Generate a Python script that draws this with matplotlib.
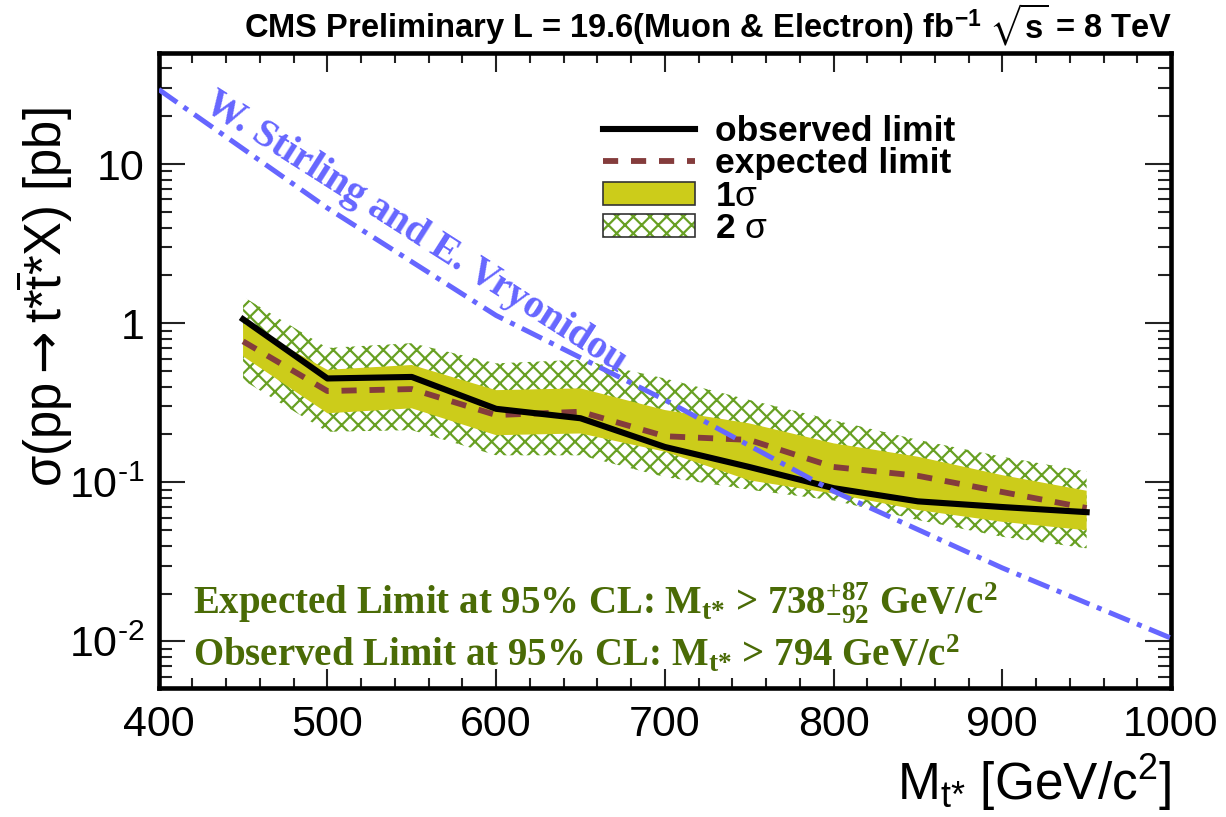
import matplotlib
matplotlib.use("Agg")
import matplotlib.pyplot as plt
from matplotlib.lines import Line2D
from matplotlib.patches import Patch
from matplotlib.legend_handler import HandlerTuple
from matplotlib.ticker import FixedLocator, FixedFormatter, LogLocator, MultipleLocator, NullFormatter

# ---------------- data ----------------
mass = [450, 500, 550, 600, 650, 700, 750, 800, 850, 900, 950]
observed = [1.06, 0.45, 0.46, 0.29, 0.253, 0.167, 0.125, 0.092, 0.076, 0.070, 0.065]
expected = [0.77, 0.375, 0.386, 0.265, 0.278, 0.195, 0.185, 0.125, 0.110, 0.087, 0.069]
one_sigma_lo = [0.62, 0.272, 0.292, 0.198, 0.203, 0.156, 0.103, 0.085, 0.067, 0.0565, 0.050]
one_sigma_hi = [1.00, 0.51, 0.547, 0.38, 0.39, 0.285, 0.235, 0.176, 0.145, 0.111, 0.0886]
two_sigma_lo = [0.44, 0.208, 0.213, 0.148, 0.148, 0.108, 0.090, 0.077, 0.058, 0.0455, 0.0385]
two_sigma_hi = [1.47, 0.70, 0.75, 0.56, 0.59, 0.45, 0.33, 0.246, 0.185, 0.145, 0.117]

theory_mass = [400, 500, 600, 700, 800, 900, 1000]
theory_xsec = [29.5, 5.3, 1.12, 0.33, 0.088, 0.029, 0.0105]

xticks = [400, 500, 600, 700, 800, 900, 1000]
xtick_labels = ["400", "500", "600", "700", "800", "900", "1000"]
yticks = [0.01, 0.1, 1, 10]
HY = "\u2010"
ytick_labels = ["$\\mathsf{10^{" + HY + "2}}$", "$\\mathsf{10^{" + HY + "1}}$", "1", "10"]

legend_labels = ["observed limit", "expected limit", r"1$\mathsf{\sigma}$", r"2 $\mathsf{\sigma}$"]
title_text = r"CMS Preliminary L = 19.6(Muon & Electron) fb$^{\mathbf{-1}}$ $\mathbf{\sqrt{s}}$ = 8 TeV"
theory_label = "W. Stirling and E. Vryonidou"
exp_text = r"Expected Limit at 95% CL: M$_{t{*}}$ > 738$^{+87}_{-92}$ GeV/c$^{2}$"
obs_text = r"Observed Limit at 95% CL: M$_{t{*}}$ > 794 GeV/c$^{2}$"
xlabel = r"$\mathsf{M_{t{*}}\ [GeV/c^{2}]}$"
ylabel = r"$\mathsf{\sigma(pp}\mathtt{\rightarrow}\mathsf{t{*}\overline{t}{*}X)\ [pb]}$"

# ---------------- style ----------------
plt.rcParams["font.family"] = ["Liberation Sans", "DejaVu Sans"]
plt.rcParams["mathtext.fontset"] = "custom"
plt.rcParams["mathtext.rm"] = "Liberation Serif:bold"
plt.rcParams["mathtext.it"] = "Liberation Serif:bold"
plt.rcParams["mathtext.bf"] = "Liberation Sans:bold"
plt.rcParams["mathtext.sf"] = "Liberation Sans"
plt.rcParams["mathtext.tt"] = "DejaVu Sans"
plt.rcParams["mathtext.default"] = "rm"
plt.rcParams["mathtext.fallback"] = "stixsans"
plt.rcParams["hatch.linewidth"] = 1.6

GREEN_HATCH = "#68a023"
YELLOW = "#cccc1a"
BROWN = "#843c3c"
BLUE = "#6666ff"
TEXT_GREEN = "#4a6b06"

W, H = 1226, 817
fig = plt.figure(figsize=(W / 100, H / 100), dpi=100)
L, R, T, B = 158.7, 1171.0, 53.0, 688.0
ax = fig.add_axes([L / W, 1 - B / H, (R - L) / W, (B - T) / H])

ax.set_yscale("log")
ax.set_xlim(400, 1000)
ax.set_ylim(0.0051, 50)

# bands
ax.fill_between(mass, two_sigma_lo, two_sigma_hi, facecolor="none", edgecolor=GREEN_HATCH,
                hatch="xx", linewidth=0, zorder=1)
ax.fill_between(mass, one_sigma_lo, one_sigma_hi, facecolor=YELLOW, edgecolor="none",
                linewidth=0, zorder=2)
ax.plot(mass, expected, color=BROWN, lw=4.2, dashes=(2.6, 2.2), zorder=3)
ax.plot(mass, observed, color="black", lw=4.4, zorder=4, solid_joinstyle="round")
ax.plot(theory_mass, theory_xsec, color=BLUE, lw=3.6, dashes=(4.5, 1.6, 1.0, 1.6), zorder=5)

# ticks
ax.xaxis.set_major_locator(FixedLocator(xticks))
ax.xaxis.set_major_formatter(FixedFormatter(xtick_labels))
ax.xaxis.set_minor_locator(MultipleLocator(20))
ax.yaxis.set_major_locator(FixedLocator(yticks))
ax.yaxis.set_major_formatter(FixedFormatter(ytick_labels))
ax.yaxis.set_minor_locator(LogLocator(base=10, subs=range(2, 10)))
ax.yaxis.set_minor_formatter(NullFormatter())

ax.tick_params(which="both", direction="in", top=True, right=True, width=1.5, colors="#222222",
               labelcolor="black", labelsize=31)
ax.tick_params(axis="x", which="major", length=14, pad=12)
ax.tick_params(axis="x", which="minor", length=7)
ax.tick_params(axis="y", which="major", length=19, pad=10)
ax.tick_params(axis="y", which="minor", length=9.5)
for s in ax.spines.values():
    s.set_linewidth(3.3)

# legend
h_obs = Line2D([], [], color="black", lw=4.4)
h_exp = Line2D([], [], color=BROWN, lw=4.2, dashes=(2.6, 2.2))
h_1s = Patch(facecolor=YELLOW, edgecolor="#333333", linewidth=1.2)
h_2s_hatch = Patch(facecolor="white", edgecolor=GREEN_HATCH, hatch="xx", linewidth=0)
h_2s_box = Patch(facecolor="none", edgecolor="#333333", linewidth=1.2)
leg = ax.legend([h_obs, h_exp, h_1s, (h_2s_hatch, h_2s_box)], legend_labels,
                handler_map={tuple: HandlerTuple(ndivide=1, pad=0)},
                loc="upper left", bbox_to_anchor=((603 - L) / (R - L), (B - 115) / (B - T)),
                frameon=False, borderpad=0, borderaxespad=0,
                handlelength=2.6, handleheight=0.62, handletextpad=0.56, labelspacing=-0.02,
                prop={"weight": "bold", "size": 25.5})
leg.set_zorder(10)

# theory label
ax.text((203 - L) / (R - L), (B - 108) / (B - T), theory_label, transform=ax.transAxes,
        family=["Liberation Serif"], weight="bold", color=BLUE, fontsize=28.5,
        rotation=-32.5, rotation_mode="anchor", ha="left", va="baseline", zorder=6)

# result texts
ax.text((192.7 - L) / (R - L), (B - 615) / (B - T), exp_text, transform=ax.transAxes,
        family=["Liberation Serif"], weight="bold", color=TEXT_GREEN, fontsize=28,
        ha="left", va="baseline", zorder=6)
ax.text((192.7 - L) / (R - L), (B - 666) / (B - T), obs_text, transform=ax.transAxes,
        family=["Liberation Serif"], weight="bold", color=TEXT_GREEN, fontsize=28,
        ha="left", va="baseline", zorder=6)

# axis labels
ax.set_xlabel(xlabel, fontsize=37, ha="right", va="baseline")
ax.xaxis.set_label_coords(1.0, (B - 800) / (B - T))
ax.set_ylabel(ylabel, fontsize=36.5, va="center", ha="center")
ax.yaxis.set_label_coords((44 - L) / (R - L), (B - 297) / (B - T))

# title
fig.text(1172 / W, 1 - 38 / H, title_text, ha="right", va="baseline", fontsize=23.5,
         weight="bold")

fig.savefig("out.png", dpi=100)
